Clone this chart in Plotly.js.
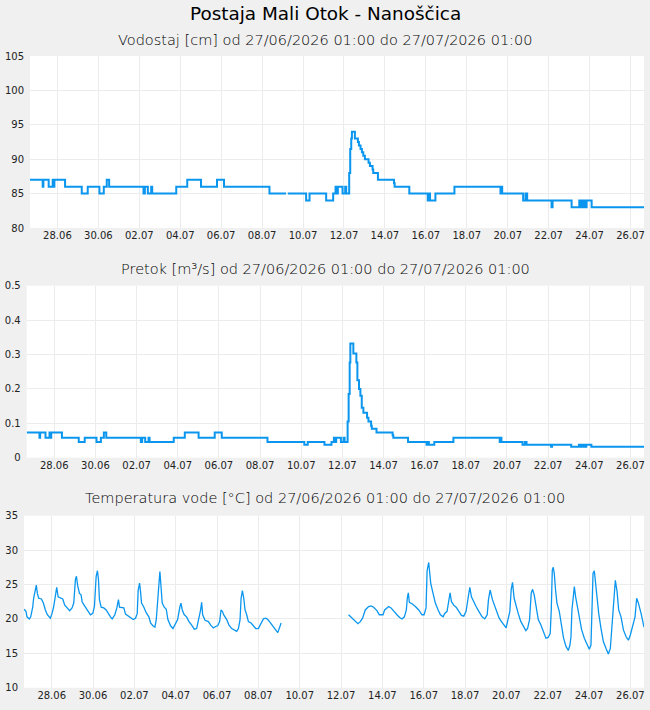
<!DOCTYPE html>
<html>
<head>
<meta charset="utf-8">
<script src="https://cdn.plot.ly/plotly-3.0.1.min.js"></script>
<style>
html,body{margin:0;padding:0;background:#f0f0f0;}
#chart{width:650px;height:710px;}
</style>
</head>
<body>
<div id="chart"></div>
<script>
// ---- data (time in hours since 27/06/2026 01:00) ----
const startTime = '2026-06-27T01:00:00Z';

const hydroHours = [0, 14.9, 15.7, 21.9, 26.6, 27.8, 28.6, 41.1, 60.7, 67.7, 81.4, 86.5, 90.0, 92.8,
  133.1, 134.7, 138.2, 142.1, 143.3, 171.5, 184.4, 200.5, 219.3, 227.5, 280.8, 300.3, 300.5, 302.3,
  323.8, 327.8, 347.3, 355.5, 358.3, 360.2, 361.0, 366.5, 369.6, 370.8,
  374.3, 375.5, 376.7, 377.5, 381.0, 384.5, 385.7, 387.6, 389.2, 390.8, 392.7, 397.0, 398.6, 401.7, 402.5, 408.0,
  426.8, 427.6, 444.8, 466.4, 467.9, 469.1, 475.4, 497.7, 551.7, 552.5, 553.7, 578.3, 581.1, 583.0,
  611.6, 612.8, 635.1, 644.1, 645.3, 647.3, 648.4, 650.0, 651.2, 652.7, 658.6, 720];

const levelCm = [87, 86, 87, 86, 87, 86, 87, 86, 85, 86, 85, 86, 87, 86,
  85, 86, 85, 86, 85, 86, 87, 86, 87, 86, 85, 85, null, 85,
  84, 85, 84, 85, 86, 85, 86, 85, 86, 85,
  88, 91.5, 93, 94, 93, 92.5, 92, 91.5, 91, 90.5, 90, 89.5, 89, 88.5, 88, 87,
  86.5, 86, 85, 84, 85, 84, 85, 86, 85, 86, 85, 84, 85, 84,
  83, 84, 83, 84, 83, 84, 83, 84, 83, 84, 83, 83];

const flowM3s = [0.073, 0.058, 0.073, 0.058, 0.073, 0.058, 0.073, 0.058, 0.046, 0.058, 0.046, 0.058, 0.073, 0.058,
  0.046, 0.058, 0.046, 0.058, 0.046, 0.058, 0.073, 0.058, 0.073, 0.058, 0.046, 0.046, 0.046, 0.046,
  0.038, 0.046, 0.038, 0.046, 0.058, 0.046, 0.058, 0.046, 0.058, 0.046,
  0.105, 0.185, 0.277, 0.332, 0.303, 0.277, 0.225, 0.200, 0.180, 0.145, 0.131, 0.116, 0.105, 0.093, 0.084, 0.073,
  0.065, 0.058, 0.046, 0.038, 0.046, 0.038, 0.046, 0.058, 0.046, 0.058, 0.046, 0.038, 0.046, 0.038,
  0.032, 0.038, 0.032, 0.038, 0.032, 0.038, 0.032, 0.038, 0.032, 0.038, 0.032, 0.032];

const tempHours = [0, 2.3, 3.5, 6.2, 7.8, 10.1, 11.2, 12.8, 14.3, 15.5, 17.1, 20.2, 22.5, 24.8, 27.1, 30.6,
  32.6, 34.5, 36.5, 38.0, 39.6, 42.3, 45.0, 47.3, 50.0, 53.1, 55.8, 57.8, 59.7, 60.9, 62.4, 64.4, 66.3,
  67.5, 69.8, 73.3, 77.2, 79.9, 81.8, 83.8, 85.3, 86.5, 87.6, 89.6, 92.7, 95.4, 97.7, 100.4, 102.4, 105.5,
  107.8, 109.7, 110.9, 114.0, 115.9, 117.9, 121.0, 123.7, 126.8, 129.5, 131.5, 132.6, 134.2, 135.3, 136.5,
  139.2, 141.9, 145.0, 147.0, 149.7, 152.0, 153.6, 155.1, 156.7, 157.8, 159.0, 160.5, 162.9, 165.2, 167.1,
  170.2, 173.0, 176.1, 178.4, 181.1, 182.3, 183.8, 186.1, 188.8, 191.6, 194.7, 197.8, 200.5, 203.2, 205.1,
  206.3, 207.5, 210.2, 214.1, 216.8, 219.9, 222.6, 224.9, 227.2, 228.8, 230.3, 232.3, 235.4, 238.1, 241.2,
  244.3, 247.0, 249.0, 250.9, 252.1, 253.6, 255.2, 256.7, 258.6, 260.6, 263.7, 266.4, 269.1, 272.2, 274.2,
  276.1, 278.0, 280.8, 283.1, 285.8, 288.5, 291.6, 294.7, 296.3, 298.6,
  320,
  376.9, 380.8, 384.7, 387.8, 390.5, 393.2, 396.3, 400.2, 402.9, 406.0, 409.9, 412.6, 416.9, 418.8, 421.5,
  423.4, 426.2, 429.3, 433.1, 436.2, 439.0, 441.7, 444.0, 445.2, 446.3, 447.5, 450.6, 454.5, 458.4, 462.2,
  464.6, 466.9, 468.1, 470.0, 471.2, 472.3, 475.0, 477.7, 480.9, 483.6, 486.7, 488.6, 491.3, 493.3, 494.8,
  496.4, 499.1, 501.8, 504.9, 508.0, 510.7, 513.4, 515.7, 517.7, 519.6, 522.3, 525.0, 528.2, 532.0, 535.1,
  537.9, 539.4, 541.3, 544.0, 546.8, 549.1, 551.8, 554.5, 557.6, 559.9, 561.5, 564.2, 565.8, 567.3, 569.2,
  571.6, 573.9, 577.0, 580.1, 582.8, 584.8, 587.1, 589.0, 590.6, 592.5, 594.8, 597.2, 600.3, 603.4, 606.1,
  608.8, 611.1, 612.3, 613.5, 614.6, 615.8, 617.3, 618.9, 621.6, 624.3, 626.6, 629.4, 632.1, 634.0, 635.2,
  636.3, 637.9, 639.1, 640.6, 642.9, 645.3, 647.6, 650.7, 653.8, 656.5, 658.4, 659.6, 660.8, 662.3, 663.9,
  665.4, 667.4, 670.1, 672.8, 675.9, 678.6, 680.9, 682.5, 684.8, 686.7, 688.7, 690.6, 693.3, 696.1, 699.2,
  701.9, 704.2, 706.9, 709.6, 711.5, 713.5, 716.6, 718.9, 720];

const tempC = [21.4, 21.1, 20.3, 20.0, 20.3, 21.7, 23.0, 24.1, 24.9, 23.7, 23.0, 22.9, 22.3, 21.3, 20.6, 20.1,
  20.8, 21.8, 23.2, 24.6, 23.2, 23.0, 22.9, 22.0, 21.6, 21.2, 21.6, 22.3, 25.7, 26.2, 24.8, 23.7, 23.5,
  22.5, 22.0, 21.3, 20.6, 20.8, 21.8, 26.2, 27.0, 25.7, 22.8, 21.7, 21.6, 21.3, 20.8, 20.3, 20.0, 20.6,
  21.6, 22.8, 21.7, 21.7, 21.6, 20.7, 20.4, 20.1, 19.9, 20.1, 20.8, 24.2, 25.2, 24.0, 22.3,
  21.7, 20.9, 20.3, 19.4, 19.0, 18.8, 19.9, 22.8, 26.2, 26.9, 24.9, 22.3, 21.7, 21.4, 19.9,
  19.0, 18.6, 19.4, 19.9, 21.8, 22.3, 21.3, 20.6, 20.3, 19.6, 19.1, 18.5, 18.6, 20.1, 21.3,
  22.4, 20.6, 19.8, 19.6, 19.1, 18.7, 18.9, 19.0, 19.6, 21.3, 21.1, 20.5, 19.9, 19.1, 18.6,
  18.4, 18.2, 18.6, 19.9, 23.0, 24.1, 23.0, 21.3, 20.6, 19.6, 19.4, 19.0, 18.6, 18.6, 19.1,
  19.6, 20.0, 20.1, 19.9, 19.5, 19.1, 18.5, 18.0, 18.6, 19.4,
  null,
  20.6, 20.1, 19.7, 19.3, 19.6, 20.1, 21.3, 21.8, 21.9, 21.7, 21.2, 20.6, 20.6, 21.3, 21.6,
  21.8, 21.6, 21.1, 20.6, 20.2, 20.0, 20.3, 21.3, 23.1, 23.8, 22.4, 22.2, 21.8, 21.3, 20.6,
  20.6, 21.6, 27.0, 28.2, 26.9, 25.2, 23.7, 22.3, 21.3, 20.6, 20.3, 20.8, 21.1, 22.5, 23.8,
  22.5, 22.0, 21.7, 21.1, 20.5, 20.4, 21.1, 23.0, 24.6, 23.2, 22.4, 21.8, 21.1, 20.3, 20.0,
  20.6, 22.8, 24.2, 22.8, 21.8, 20.8, 20.1, 19.6, 19.0, 18.7, 19.6, 21.1, 24.3, 25.3, 23.0,
  21.7, 20.8, 19.6, 18.9, 18.3, 18.6, 19.9, 23.7, 24.3, 23.5, 21.6, 19.9, 19.1, 18.2, 17.2,
  17.3, 17.9, 21.3, 27.1, 27.5, 26.6, 24.2, 22.3, 21.1, 19.1, 17.2, 16.0, 15.4, 16.2, 17.4,
  21.3, 24.0, 24.7, 23.2, 21.6, 20.1, 18.4, 17.2, 16.2, 15.6, 16.2, 20.3, 26.6, 27.0, 25.2,
  22.8, 20.8, 18.6, 16.7, 15.7, 14.9, 15.7, 18.4, 23.2, 25.6, 24.0, 21.3, 20.3, 18.4, 17.4,
  16.9, 17.7, 18.9, 20.3, 23.0, 22.3, 20.8, 19.6, 18.8];

const tickDays = ['2026-06-28', '2026-06-30', '2026-07-02', '2026-07-04', '2026-07-06', '2026-07-08',
  '2026-07-10', '2026-07-12', '2026-07-14', '2026-07-16', '2026-07-18', '2026-07-20', '2026-07-22',
  '2026-07-24', '2026-07-26'];
const tickLabels = ['28.06', '30.06', '02.07', '04.07', '06.07', '08.07', '10.07', '12.07', '14.07',
  '16.07', '18.07', '20.07', '22.07', '24.07', '26.07'];

const mainTitle = 'Postaja Mali Otok - Nanoščica';
const subTitles = [
  'Vodostaj [cm] od 27/06/2026 01:00 do 27/07/2026 01:00',
  'Pretok [m³/s] od 27/06/2026 01:00 do 27/07/2026 01:00',
  'Temperatura vode [°C] od 27/06/2026 01:00 do 27/07/2026 01:00'
];

// ---- helpers ----
const t0 = Date.parse(startTime);
function fmt(ms){ return new Date(ms).toISOString().slice(0,19).replace('T',' '); }
function hToDate(h){ return fmt(t0 + h*3600e3); }
const tickShiftMs = (9*60+10)*60e3;
const tickVals = tickDays.map(d => fmt(Date.parse(d+'T00:00:00Z') + tickShiftMs));
const xRange = [hToDate(0), hToDate(720)];

const W = 650, H = 710;
const col = '#0a96ee';
const gridCol = '#ececec';
const tickFont = {family:'DejaVu Sans, Verdana, sans-serif', size:10, color:'#222'};

function xa(l, r, anchor){
  return {domain:[l/W, r/W], anchor:anchor, type:'date', range:xRange,
    tickmode:'array', tickvals:tickVals, ticktext:tickLabels,
    showgrid:true, gridcolor:gridCol, gridwidth:1, zeroline:false, showline:false,
    ticks:'', tickfont:tickFont, fixedrange:true, automargin:false};
}
function ya(top, bottom, anchor, range, dtick){
  return {domain:[1-bottom/H, 1-top/H], anchor:anchor, range:range, dtick:dtick, tick0:range[0],
    showgrid:true, gridcolor:gridCol, gridwidth:1, zeroline:false, showline:false,
    ticks:'', tickfont:tickFont, ticklabelstandoff:5, fixedrange:true, automargin:false};
}

const hx = hydroHours.map(hToDate);
const traces = [
  {x:hx, y:levelCm, xaxis:'x', yaxis:'y', type:'scatter', mode:'lines',
   line:{color:col, width:2, shape:'hv'}, connectgaps:false, hoverinfo:'skip'},
  {x:hx, y:flowM3s, xaxis:'x2', yaxis:'y2', type:'scatter', mode:'lines',
   line:{color:col, width:2, shape:'hv'}, connectgaps:false, hoverinfo:'skip'},
  {x:tempHours.map(hToDate), y:tempC, xaxis:'x3', yaxis:'y3', type:'scatter', mode:'lines',
   line:{color:col, width:1.3}, connectgaps:false, hoverinfo:'skip'}
];

function ann(text, ypx, size, weight, color){
  return {text:text, xref:'paper', yref:'paper', x:0.5, y:1-ypx/H, xanchor:'center', yanchor:'middle',
    showarrow:false, font:{family:'DejaVu Sans, Verdana, sans-serif', size:size, color:color, weight:weight}};
}

const layout = {
  width:W, height:H, margin:{l:0, r:0, t:0, b:0},
  paper_bgcolor:'#f0f0f0', plot_bgcolor:'#ffffff', showlegend:false,
  xaxis: xa(30, 644, 'y'),
  yaxis: ya(56, 228, 'x', [80, 105], 5),
  xaxis2: xa(26.7, 644, 'y2'),
  yaxis2: ya(285.7, 457.7, 'x2', [0, 0.5], 0.1),
  xaxis3: xa(24, 644, 'y3'),
  yaxis3: ya(515.7, 687.7, 'x3', [10, 35], 5),
  annotations: [
    ann(mainTitle, 14, 18.4, 400, '#000'),
    ann(subTitles[0], 39.5, 14.5, 200, '#000'),
    ann(subTitles[1], 268.5, 14.5, 200, '#000'),
    ann(subTitles[2], 498.5, 14.5, 200, '#000')
  ]
};

Plotly.newPlot('chart', traces, layout, {displayModeBar:false, staticPlot:true});
</script>
</body>
</html>
